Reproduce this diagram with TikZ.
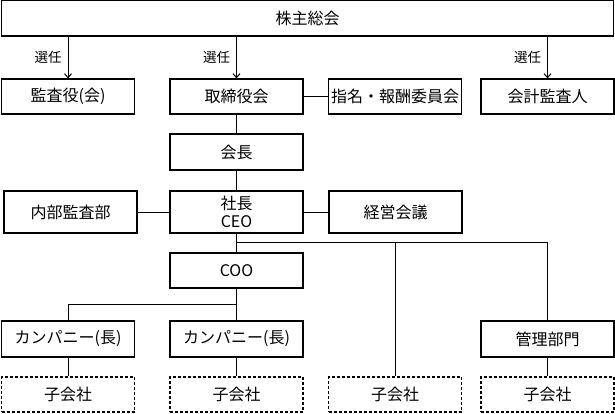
\documentclass[tikz,border=0pt]{standalone}
\usepackage{fontspec}
\setmainfont{Noto Sans CJK JP}
\usetikzlibrary{arrows.meta}

\tikzset{
  box/.style={draw, line width=1.2pt, minimum width=133pt, minimum height=35pt,
    inner sep=1pt, align=center, font=\fontsize{16}{17}\selectfont},
  subbox/.style={box, dash pattern=on 3pt off 2pt},
  link/.style={line width=1pt},
  elect/.style={link, -{Straight Barb[length=4pt,width=7pt]}},
  electlabel/.style={left=5pt, inner sep=1pt, font=\fontsize{13.5}{14}\selectfont},
}

\begin{document}
\begin{tikzpicture}[x=1pt, y=-1pt]
\def \xa {68};
\def \xb {236.5};
\def \xc {395};
\def \xd {547.5};

\def \ytop  {18};
\def \yboard {96.5};
\def \ychair {152};
\def \yceo  {212};
\def \ybusA {242.7};
\def \ycoo  {270.5};
\def \ybusB {304};
\def \ycomp {339};
\def \ysub  {394.5};

\useasboundingbox (0,0) rectangle (615,413);

\node [box, minimum width=612pt, minimum height=36pt] (meeting) at (307.5, \ytop) {株主総会};

\node [box] (kansa)  at (\xa, \yboard) {監査役(会)};
\node [box] (board)  at (\xb, \yboard) {取締役会};
\node [box] (nomin)  at (\xc, \yboard) {指名・報酬委員会};
\node [box] (audit)  at (\xd, \yboard) {会計監査人};

\node [box, minimum height=36pt] (chair) at (\xb, \ychair) {会長};

\node [box, minimum height=42pt] (naibu) at (70.5, \yceo) {内部監査部};
\node [box, minimum height=42pt, font=\fontsize{16}{18}\selectfont] (ceo) at (\xb, \yceo) {社長\\CEO};
\node [box, minimum height=42pt] (keiei) at (395.5, \yceo) {経営会議};

\node [box] (coo) at (\xb, \ycoo) {COO};

\node [box, minimum height=36pt] (compA) at (\xa, \ycomp) {カンパニー(長)};
\node [box, minimum height=36pt] (compB) at (\xb, \ycomp) {カンパニー(長)};
\node [box, minimum height=36pt] (kanri) at (\xd, \ycomp) {管理部門};

\node [subbox] (subA) at (\xa, \ysub) {子会社};
\node [subbox] (subB) at (\xb, \ysub) {子会社};
\node [subbox] (subC) at (\xc, \ysub) {子会社};
\node [subbox] (subD) at (\xd, \ysub) {子会社};

% election
\draw [elect] (meeting.south -| kansa.north) -- node [electlabel] {選任} (kansa.north);
\draw [elect] (meeting.south -| board.north) -- node [electlabel] {選任} (board.north);
\draw [elect] (meeting.south -| audit.north) -- node [electlabel] {選任} (audit.north);

\draw [link] (board) -- (nomin);
\draw [link] (board) -- (chair);
\draw [link] (chair) -- (ceo);
\draw [link] (naibu) -- (ceo);
\draw [link] (ceo) -- (keiei);

% line under CEO
\coordinate (busA) at (\xb, \ybusA);
\draw [link] (ceo) -- (coo);
\draw [link] (busA) -| (kanri.north);
\draw [link] (busA -| subC.north) -- (subC.north);

% line under COO
\coordinate (busB) at (\xb, \ybusB);
\draw [link] (coo) -- (compB);
\draw [link] (busB) -| (compA.north);

\draw [link] (compA) -- (subA);
\draw [link] (compB) -- (subB);
\draw [link] (kanri) -- (subD);

\end{tikzpicture}
\end{document}
